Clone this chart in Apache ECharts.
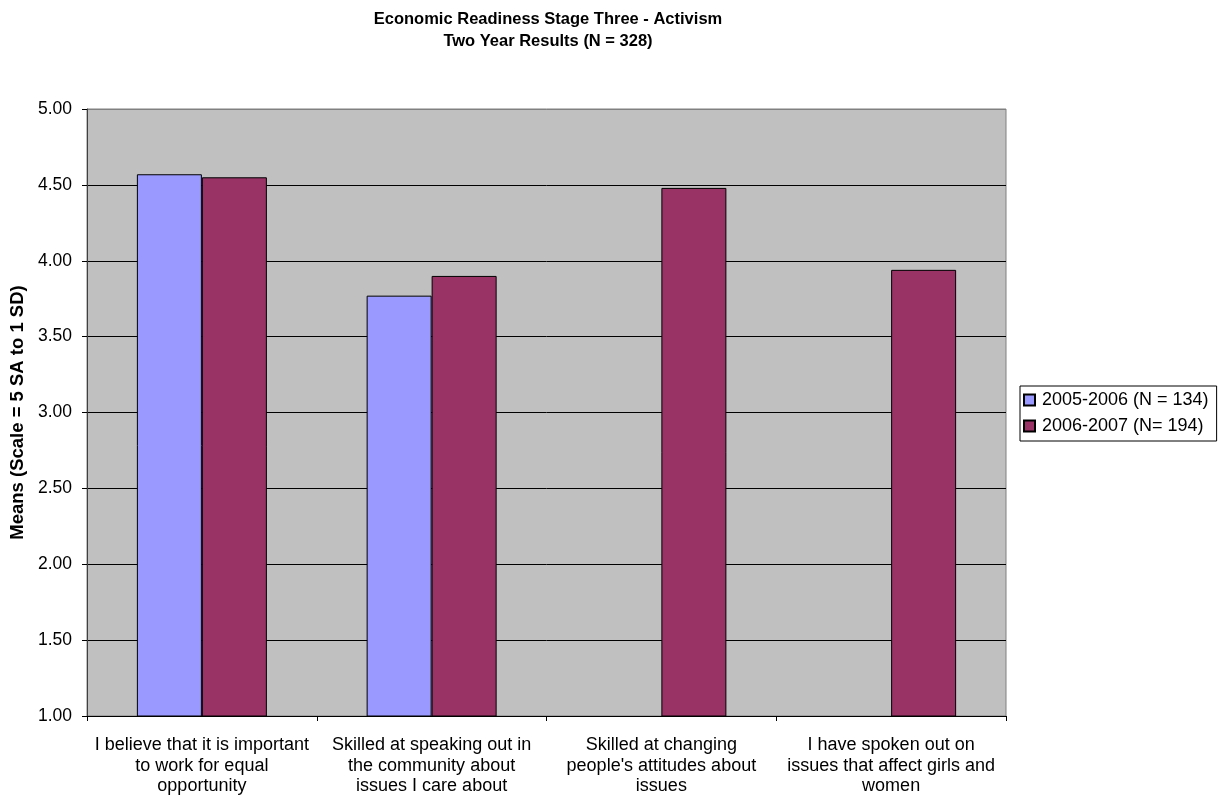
<!DOCTYPE html>
<html>
<head>
<meta charset="utf-8">
<title>Economic Readiness Stage Three - Activism</title>
<script src="https://cdn.jsdelivr.net/npm/echarts@6/dist/echarts.min.js"></script>
<style>
  html, body { margin: 0; padding: 0; background: #ffffff; }
  #chart { width: 1219px; height: 799px; }
</style>
</head>
<body>
<div id="chart"></div>
<script>
// Survey items (x axis categories)
const categories = [
  'I believe that it is important\nto work for equal\nopportunity',
  'Skilled at speaking out in\nthe community about\nissues I care about',
  'Skilled at changing\npeople\'s attitudes about\nissues',
  'I have spoken out on\nissues that affect girls and\nwomen'
];

// Mean scores per school year
const seriesNames = ['2005-2006 (N = 134)', '2006-2007 (N= 194)'];
const means2005 = [4.57, 3.77, null, null];
const means2006 = [4.55, 3.90, 4.48, 3.94];

// Value axis range
const yMin = 1.00;
const yMax = 5.00;
const yStep = 0.50;

const FONT = '"Liberation Sans", Arial, sans-serif';

// Gridlines are black; the top one sits on the grey plot border
const gridColors = [];
for (let v = yMin; v <= yMax + 1e-9; v += yStep) {
  gridColors.push(v >= yMax - 1e-9 ? '#808080' : '#000000');
}

const chart = echarts.init(document.getElementById('chart'), null, { renderer: 'canvas' });

chart.setOption({
  animation: false,
  backgroundColor: '#ffffff',
  textStyle: { fontFamily: FONT },
  title: {
    text: 'Economic Readiness Stage Three - Activism\nTwo Year Results (N = 328)',
    left: 543,
    textAlign: 'center',
    top: 3,
    textStyle: {
      fontFamily: FONT,
      fontSize: 16.5,
      fontWeight: 'bold',
      color: '#000000',
      lineHeight: 22.5
    }
  },
  legend: {
    orient: 'vertical',
    left: 1020,
    top: 386,
    padding: [5, 8, 6, 3],
    itemGap: 8,
    itemWidth: 11,
    itemHeight: 11,
    icon: 'rect',
    borderColor: '#000000',
    borderWidth: 1,
    backgroundColor: '#ffffff',
    textStyle: { fontFamily: FONT, fontSize: 18, color: '#000000', padding: [0, 0, 0, 2] },
    data: seriesNames
  },
  grid: {
    left: 87,
    right: 213,
    top: 109,
    bottom: 83,
    show: true,
    backgroundColor: '#C0C0C0',
    borderColor: '#808080',
    borderWidth: 1,
    containLabel: false
  },
  xAxis: {
    type: 'category',
    data: categories,
    boundaryGap: true,
    axisLine: { show: true, lineStyle: { color: '#000000', width: 1 } },
    axisTick: { show: true, length: 5, alignWithLabel: false, lineStyle: { color: '#000000' } },
    axisLabel: {
      fontFamily: FONT,
      fontSize: 18,
      color: '#000000',
      lineHeight: 20.5,
      margin: 19,
      interval: 0
    },
    splitLine: { show: false }
  },
  yAxis: {
    type: 'value',
    min: yMin,
    max: yMax,
    interval: yStep,
    name: 'Means (Scale = 5 SA to 1 SD)',
    nameLocation: 'middle',
    nameRotate: 90,
    nameGap: 57,
    nameTextStyle: { fontFamily: FONT, fontSize: 18.5, fontWeight: 'bold', color: '#000000' },
    axisLine: { show: true, lineStyle: { color: '#404040', width: 1 } },
    axisTick: { show: true, length: 5, lineStyle: { color: '#000000' } },
    axisLabel: {
      fontFamily: FONT,
      fontSize: 17.5,
      color: '#000000',
      margin: 15,
      formatter: v => v.toFixed(2)
    },
    splitLine: { show: true, lineStyle: { color: gridColors, width: 1 } }
  },
  series: [
    {
      name: seriesNames[0],
      type: 'bar',
      data: means2005,
      barWidth: 65,
      barGap: '0%',
      itemStyle: { color: '#9999FF', borderColor: '#000000', borderWidth: 1 }
    },
    {
      name: seriesNames[1],
      type: 'bar',
      data: means2006,
      barWidth: 65,
      barGap: '0%',
      itemStyle: { color: '#993366', borderColor: '#000000', borderWidth: 1 }
    }
  ]
});
</script>
</body>
</html>
